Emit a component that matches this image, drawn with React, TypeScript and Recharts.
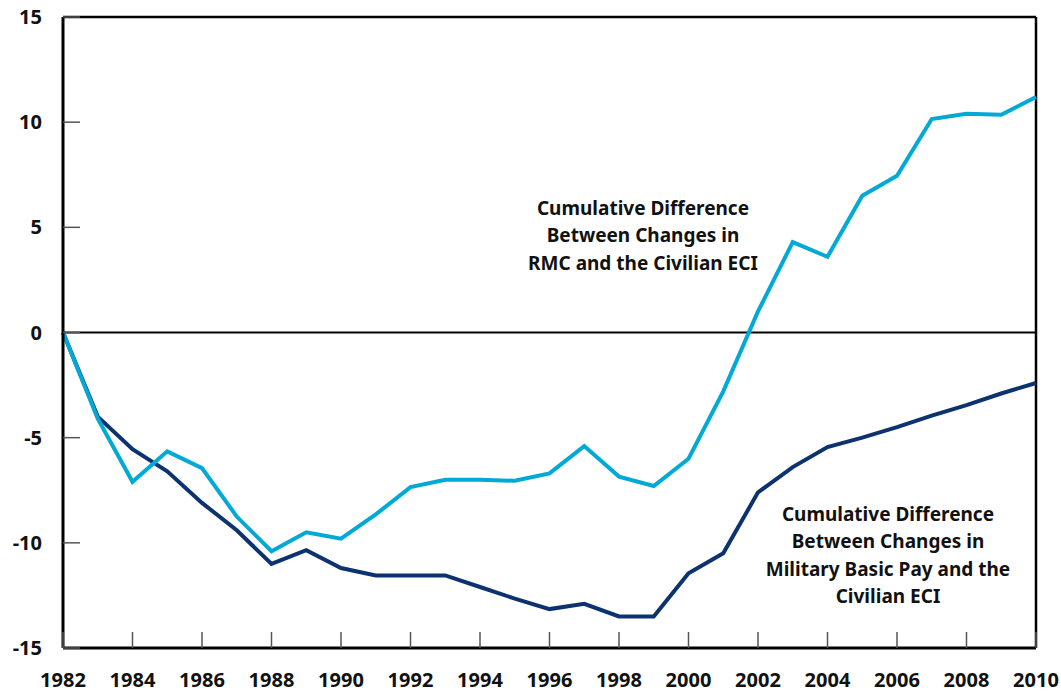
import { LineChart, Line, XAxis, YAxis, ReferenceLine, ReferenceDot } from "recharts"

const years = [
  1982, 1983, 1984, 1985, 1986, 1987, 1988, 1989, 1990, 1991, 1992, 1993, 1994, 1995,
  1996, 1997, 1998, 1999, 2000, 2001, 2002, 2003, 2004, 2005, 2006, 2007, 2008, 2009, 2010,
]

// Cumulative difference between changes in RMC and the civilian ECI
const rmcDiff = [
  0, -4.1, -7.1, -5.65, -6.45, -8.75, -10.4, -9.5, -9.8, -8.65, -7.35, -7.0, -7.0, -7.05,
  -6.7, -5.4, -6.85, -7.3, -6.0, -2.8, 1.0, 4.3, 3.6, 6.5, 7.45, 10.15, 10.4, 10.35, 11.2,
]

// Cumulative difference between changes in military basic pay and the civilian ECI
const basicPayDiff = [
  0, -4.0, -5.55, -6.6, -8.1, -9.4, -11.0, -10.35, -11.2, -11.55, -11.55, -11.55, -12.1, -12.65,
  -13.15, -12.9, -13.5, -13.5, -11.45, -10.5, -7.6, -6.4, -5.45, -5.0, -4.5, -3.95, -3.45, -2.9, -2.4,
]

const xTicks = [1982, 1984, 1986, 1988, 1990, 1992, 1994, 1996, 1998, 2000, 2002, 2004, 2006, 2008, 2010]
const yTicks = [-15, -10, -5, 0, 5, 10, 15]

const rmcLabel = ["Cumulative Difference", "Between Changes in", "RMC and the Civilian ECI"]
const payLabel = ["Cumulative Difference", "Between Changes in", "Military Basic Pay and the", "Civilian ECI"]

const data = years.map((year, i) => ({ year, rmc: rmcDiff[i], pay: basicPayDiff[i] }))

const FONT = "'Noto Sans', 'DejaVu Sans', sans-serif"
const LIGHT = "#00a9d6"
const DARK = "#0c3370"

const XTick = ({ x, y, payload }: any) => (
  <g>
    <line x1={x} x2={x} y1={y} y2={y - 16} stroke="#555" strokeWidth={1.5} />
    <text x={x} y={y + 39} textAnchor="middle" fontFamily={FONT} fontWeight={700} fontSize={20} fill="#111">
      {payload.value}
    </text>
  </g>
)

const YTick = ({ x, y, payload }: any) => (
  <g>
    <line x1={x} x2={x + 17} y1={y} y2={y} stroke="#555" strokeWidth={1.5} />
    <text x={x - 21} y={y + 7} textAnchor="end" fontFamily={FONT} fontWeight={700} fontSize={20} fill="#111">
      {payload.value}
    </text>
  </g>
)

const makeLabel = (lines: string[]) => ({ viewBox }: any) => {
  const cx = viewBox.x + viewBox.width / 2
  const cy = viewBox.y + viewBox.height / 2
  return (
    <text x={cx} y={cy + 7} textAnchor="middle" fontFamily={FONT} fontWeight={700} fontSize={19} fill="#111">
      {lines.map((line, i) => (
        <tspan key={i} x={cx} dy={i === 0 ? 0 : 27.5}>
          {line}
        </tspan>
      ))}
    </text>
  )
}

export default function App() {
  return (
    <div style={{ padding: "8px 0 0 8px", width: 1053, height: 685, overflow: "hidden" }}>
      <style>{`body { margin: 0; overflow: hidden; } .recharts-surface { overflow: visible; }`}</style>
      <LineChart width={1053} height={685} data={data} margin={{ top: 9, right: 25, left: 0, bottom: 0 }}>
        <XAxis
          dataKey="year"
          type="number"
          domain={[1982, 2010]}
          ticks={xTicks}
          interval={0}
          tickLine={false}
          tickSize={0}
          tickMargin={0}
          tick={<XTick />}
          axisLine={{ stroke: "#000", strokeWidth: 3 }}
          height={45}
        />
        <YAxis
          type="number"
          domain={[-15, 15]}
          ticks={yTicks}
          interval={0}
          tickLine={false}
          tickSize={0}
          tickMargin={0}
          tick={<YTick />}
          axisLine={{ stroke: "#000", strokeWidth: 3 }}
          width={55}
        />
        <ReferenceLine y={15} stroke="#000" strokeWidth={2.5} />
        <ReferenceLine x={2010} stroke="#000" strokeWidth={2.5} />
        <ReferenceLine y={0} stroke="#000" strokeWidth={2} />
        <Line
          dataKey="pay"
          stroke={DARK}
          strokeWidth={4}
          dot={false}
          isAnimationActive={false}
          strokeLinejoin="miter"
        />
        <Line
          dataKey="rmc"
          stroke={LIGHT}
          strokeWidth={4}
          dot={false}
          isAnimationActive={false}
          strokeLinejoin="miter"
        />
        <ReferenceDot x={1998.69} y={5.94} r={0} fill="none" stroke="none" label={makeLabel(rmcLabel)} />
        <ReferenceDot x={2005.74} y={-8.62} r={0} fill="none" stroke="none" label={makeLabel(payLabel)} />
      </LineChart>
    </div>
  )
}
